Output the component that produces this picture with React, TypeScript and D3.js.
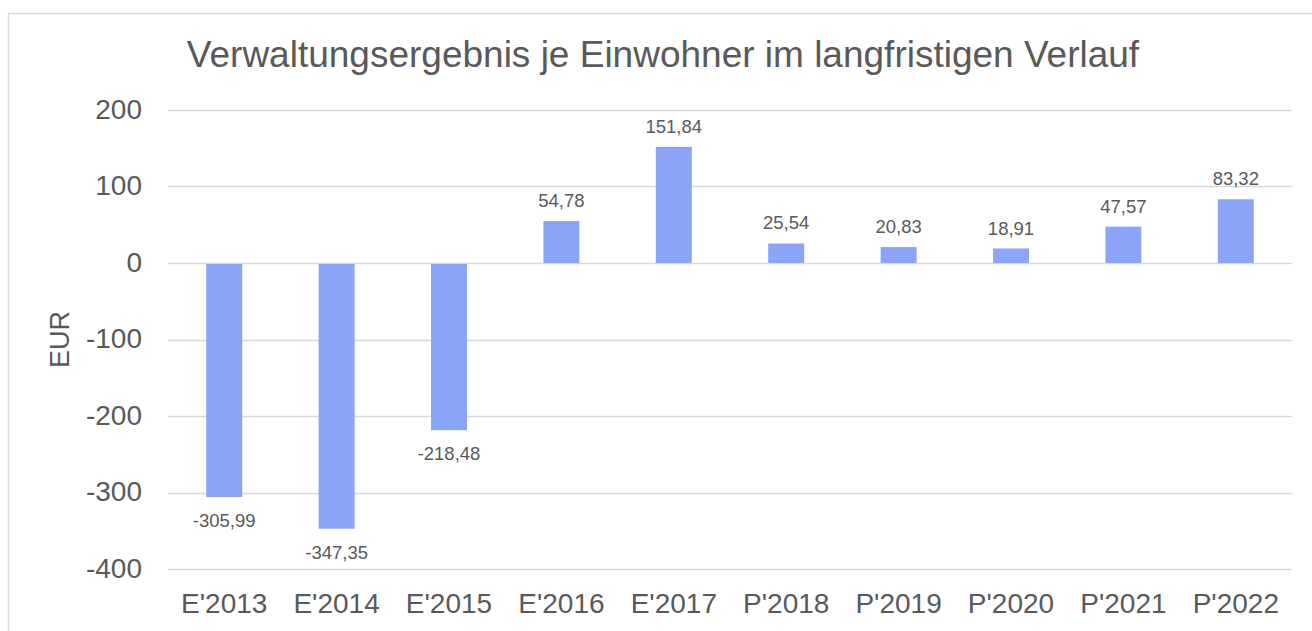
import React, { useRef, useEffect } from "react";
import * as d3 from "d3";

const categories = ["E'2013", "E'2014", "E'2015", "E'2016", "E'2017", "P'2018", "P'2019", "P'2020", "P'2021", "P'2022"];
const values = [-305.99, -347.35, -218.48, 54.78, 151.84, 25.54, 20.83, 18.91, 47.57, 83.32];
const yTicks = [200, 100, 0, -100, -200, -300, -400];

const title = "Verwaltungsergebnis je Einwohner im langfristigen Verlauf";
const yLabel = "EUR";

export default function App() {
  const ref = useRef<SVGSVGElement>(null);

  useEffect(() => {
    const svg = d3.select(ref.current);
    svg.selectAll("*").remove();

    const width = 1312;
    const height = 631;
    const margin = { top: 110, right: 20, bottom: 62, left: 168 };
    const innerWidth = 1292 - margin.left;
    const innerHeight = 569 - margin.top;
    const font = "'Liberation Sans', Arial, sans-serif";
    const textColor = "#595959";

    // chart border (only top and left visible)
    svg.append("rect")
      .attr("x", 8.5)
      .attr("y", 13.5)
      .attr("width", width + 20)
      .attr("height", height + 20)
      .attr("fill", "#fff")
      .attr("stroke", "#d9d9d9")
      .attr("stroke-width", 1.5);

    const g = svg.append("g").attr("transform", `translate(${margin.left},${margin.top})`);

    const x = d3.scaleBand().domain(categories).range([0, innerWidth]).paddingInner(0.68).paddingOuter(0.34);
    const y = d3.scaleLinear().domain([-400, 200]).range([innerHeight, 0]);

    // gridlines
    g.append("g")
      .selectAll("line")
      .data(yTicks)
      .join("line")
      .attr("x1", 0)
      .attr("x2", innerWidth)
      .attr("y1", (d) => Math.round(y(d)) + 0.5)
      .attr("y2", (d) => Math.round(y(d)) + 0.5)
      .attr("stroke", "#d9d9d9")
      .attr("stroke-width", 1.5);

    // y tick labels
    g.append("g")
      .selectAll("text")
      .data(yTicks)
      .join("text")
      .attr("x", -26)
      .attr("y", (d) => y(d) - 1)
      .attr("text-anchor", "end")
      .attr("dominant-baseline", "central")
      .style("font-family", font)
      .style("font-size", "28px")
      .attr("fill", textColor)
      .text((d) => d3.format("d")(d).replace("−", "-"));

    // bars
    g.append("g")
      .selectAll("rect")
      .data(values)
      .join("rect")
      .attr("x", (d, i) => x(categories[i])!)
      .attr("width", x.bandwidth())
      .attr("y", (d) => (d >= 0 ? y(d) : y(0) + 1))
      .attr("height", (d) => Math.abs(y(d) - y(0)) - (d >= 0 ? 0 : 1))
      .attr("fill", "#8aa4f8");

    // data labels
    g.append("g")
      .selectAll("text")
      .data(values)
      .join("text")
      .attr("x", (d, i) => x(categories[i])! + x.bandwidth() / 2)
      .attr("y", (d) => (d >= 0 ? y(d) - 14 : y(d) + 30))
      .attr("text-anchor", "middle")
      .style("font-family", font)
      .style("font-size", "18.5px")
      .attr("fill", textColor)
      .text((d) => d.toFixed(2).replace(".", ","));

    // category labels
    g.append("g")
      .selectAll("text")
      .data(categories)
      .join("text")
      .attr("x", (d) => x(d)! + x.bandwidth() / 2)
      .attr("y", innerHeight + 44)
      .attr("text-anchor", "middle")
      .style("font-family", font)
      .style("font-size", "28px")
      .attr("fill", textColor)
      .text((d) => d);

    // y axis title
    svg.append("text")
      .attr("transform", `translate(69, ${margin.top + innerHeight / 2}) rotate(-90)`)
      .attr("text-anchor", "middle")
      .style("font-family", font)
      .style("font-size", "27px")
      .attr("fill", textColor)
      .text(yLabel);

    // title
    svg.append("text")
      .attr("x", 663)
      .attr("y", 67)
      .attr("text-anchor", "middle")
      .style("font-family", font)
      .style("font-size", "37px")
      .attr("fill", textColor)
      .text(title);
  }, []);

  return (
    <svg
      ref={ref}
      width={1312}
      height={631}
      style={{ position: "absolute", left: 0, top: 0, background: "#fff" }}
    />
  );
}
